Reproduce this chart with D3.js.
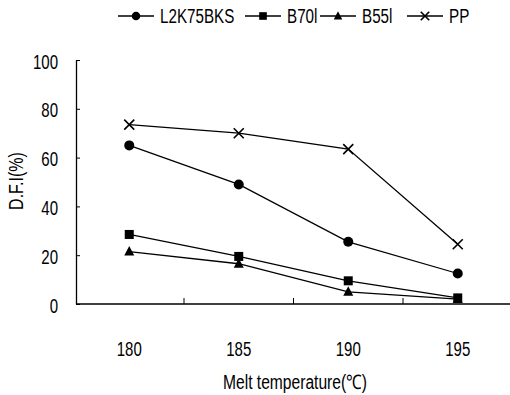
<!DOCTYPE html>
<html>
<head>
<meta charset="utf-8">
<script src="https://cdn.jsdelivr.net/npm/d3@7"></script>
<style>
  body { margin: 0; background: #fff; }
  text { font-family: "Liberation Sans", Arial, sans-serif; fill: #000; }
</style>
</head>
<body>
<svg id="chart" width="510" height="395"></svg>
<script>
// data
const temps = ["180", "185", "190", "195"];
const seriesNames = ["L2K75BKS", "B70l", "B55l", "PP"];
const l2k = [65, 49, 25.5, 12.5];
const b70 = [28.5, 19.5, 9.5, 2.5];
const b55 = [21.5, 16.5, 5, 2];
const pp = [73.5, 70, 63.5, 24.5];
const yTicks = [0, 20, 40, 60, 80, 100];

const series = [
  {name: seriesNames[0], values: l2k, sym: "circle"},
  {name: seriesNames[1], values: b70, sym: "square"},
  {name: seriesNames[2], values: b55, sym: "triangle"},
  {name: seriesNames[3], values: pp, sym: "cross"}
];

var FONT = 20;
// the original font is a narrow face, squeeze text horizontally
function squeeze(sel, k) {
  sel.each(function() {
    var w = this.getComputedTextLength();
    d3.select(this).attr("textLength", w * k).attr("lengthAdjust", "spacingAndGlyphs");
  });
}

var svg = d3.select("#chart");
var x = d3.scaleBand().domain(temps).range([74.5, 512.5]);
var y = d3.scaleLinear().domain([0, 100]).range([304, 60]);
var cx = function(t){ return x(t) + x.bandwidth() / 2; };

// y axis
var yAxis = svg.append("g")
  .attr("transform", "translate(76,0)")
  .call(d3.axisLeft(y).tickValues(yTicks).tickSizeInner(-4).tickSizeOuter(0).tickPadding(18));
yAxis.select(".domain").attr("stroke", "#000").attr("stroke-width", 1.3);
yAxis.selectAll("text").attr("font-size", FONT).attr("dy", "0.4em")
  .style("font-family", "Liberation Sans, Arial, sans-serif").call(squeeze, 0.75);

// x axis
var xAxis = svg.append("g")
  .attr("transform", "translate(0,304)")
  .call(d3.axisBottom(x).tickSize(0).tickPadding(52));
xAxis.select(".domain").attr("d", "M76,0H510").attr("stroke", "#000").attr("stroke-width", 1.3);
xAxis.selectAll("text").attr("font-size", FONT).attr("dy", 0)
  .style("font-family", "Liberation Sans, Arial, sans-serif").call(squeeze, 0.75);
xAxis.selectAll(".bound").data(temps.slice(1)).enter().append("line")
  .attr("class", "bound")
  .attr("x1", function(d){ return x(d); }).attr("x2", function(d){ return x(d); })
  .attr("y1", 0).attr("y2", -6)
  .attr("stroke", "#000");

// axis titles
svg.append("text")
  .attr("transform", "translate(23,181) rotate(-90)")
  .attr("text-anchor", "middle")
  .attr("font-size", FONT)
  .text("D.F.I(%)")
  .call(squeeze, 0.8);
svg.append("text")
  .attr("x", 295).attr("y", 389)
  .attr("text-anchor", "middle")
  .attr("font-size", FONT)
  .text("Melt temperature(℃)")
  .call(squeeze, 0.78);

function marker(g, sym, px, py, s) {
  s = s || 1;
  if (sym === "circle") {
    g.append("circle").attr("cx", px).attr("cy", py).attr("r", 5 * s).attr("fill", "#000");
  } else if (sym === "square") {
    g.append("rect").attr("x", px - 4.5 * s).attr("y", py - 4.5 * s).attr("width", 9 * s).attr("height", 9 * s).attr("fill", "#000");
  } else if (sym === "triangle") {
    g.append("path").attr("d", "M" + px + "," + (py - 5.5 * s) + "L" + (px + 5 * s) + "," + (py + 4 * s) + "L" + (px - 5 * s) + "," + (py + 4 * s) + "Z").attr("fill", "#000");
  } else {
    var r = 5 * s;
    g.append("path").attr("d", "M" + (px - r) + "," + (py - r) + "L" + (px + r) + "," + (py + r) + "M" + (px + r) + "," + (py - r) + "L" + (px - r) + "," + (py + r))
      .attr("stroke", "#000").attr("stroke-width", 1.6).attr("fill", "none");
  }
}

var line = d3.line()
  .x(function(d, i){ return cx(temps[i]); })
  .y(function(d){ return y(d); });

series.forEach(function(s) {
  var g = svg.append("g");
  g.append("path").attr("d", line(s.values)).attr("fill", "none").attr("stroke", "#000").attr("stroke-width", 1.3);
  s.values.forEach(function(v, i) { marker(g, s.sym, cx(temps[i]), y(v)); });
});

// legend
var legendX = [118, 245, 320, 407];
series.forEach(function(s, i) {
  var g = svg.append("g");
  var x0 = legendX[i];
  g.append("line").attr("x1", x0).attr("x2", x0 + 36).attr("y1", 16).attr("y2", 16).attr("stroke", "#000").attr("stroke-width", 1.3);
  marker(g, s.sym, x0 + 18, 16, 0.85);
  g.append("text").attr("x", x0 + 42).attr("y", 23).attr("font-size", FONT).text(s.name).call(squeeze, 0.76);
});
</script>
</body>
</html>
